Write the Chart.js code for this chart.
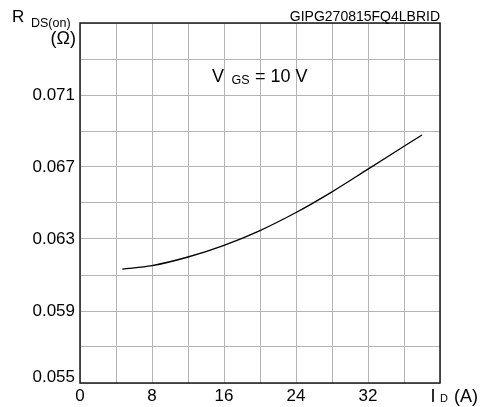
<!DOCTYPE html>
<html>
<head>
<meta charset="utf-8">
<script src="https://cdn.jsdelivr.net/npm/chart.js@4.4.1/dist/chart.umd.min.js"></script>
<style>
  html, body { margin: 0; padding: 0; background: #fff; }
  #wrap { width: 487px; height: 407px; }
</style>
</head>
<body>
<div id="wrap"><canvas id="rds-chart" width="487" height="407"></canvas></div>
<script>
// drain current (A) vs on-resistance (ohm), VGS = 10 V
const drainCurrent = [4.7, 8, 12, 16, 20, 24, 28, 32, 36, 38];
const rdsOn = [0.06133, 0.06152, 0.062, 0.06265, 0.06347, 0.06447, 0.06562, 0.06688, 0.06815, 0.06878];

const xTickLabels = ['0', '8', '16', '24', '32'];
const yTickLabels = ['0.055', '0.059', '0.063', '0.067', '0.071'];

const FONT = 'Liberation Sans, Arial, sans-serif';

// frame + axis titles + annotation drawn on top
const labelsPlugin = {
  id: 'labelsPlugin',
  afterDraw: (chart) => {
    const { ctx, chartArea: { left, top, right, bottom } } = chart;
    ctx.save();
    ctx.strokeStyle = '#1a1a1a';
    ctx.lineWidth = 1.5;
    ctx.strokeRect(left, top, right - left, bottom - top);

    ctx.fillStyle = '#000';
    ctx.textBaseline = 'alphabetic';
    ctx.textAlign = 'left';

    // y title
    ctx.font = `17px ${FONT}`;
    ctx.fillText('R', 12, 22);
    ctx.font = `12.5px ${FONT}`;
    ctx.fillText('DS(on)', 31, 27);
    ctx.textAlign = 'right';
    ctx.font = `18px ${FONT}`;
    ctx.fillText('(\u03A9)', 76, 44);

    // x title
    ctx.textAlign = 'left';
    ctx.font = `18px ${FONT}`;
    ctx.fillText('I', 430.5, 401.5);
    ctx.font = `11px ${FONT}`;
    ctx.fillText('D', 440, 401.5);
    ctx.font = `18px ${FONT}`;
    ctx.fillText('(A)', 454, 401.5);

    // condition label
    ctx.font = `18px ${FONT}`;
    ctx.fillText('V', 212, 81.5);
    ctx.font = `12.5px ${FONT}`;
    ctx.fillText('GS', 231.5, 83.5);
    ctx.font = `18px ${FONT}`;
    ctx.fillText('= 10 V', 255, 81.5);

    // figure id
    ctx.textAlign = 'right';
    ctx.font = `14px ${FONT}`;
    ctx.fillText('GIPG270815FQ4LBRID', right, 20.5);
    ctx.restore();
  }
};

const ctx = document.getElementById('rds-chart').getContext('2d');

new Chart(ctx, {
  type: 'line',
  data: {
    datasets: [{
      data: drainCurrent.map((x, i) => ({ x: x, y: rdsOn[i] })),
      borderColor: '#000',
      borderWidth: 1.3,
      pointRadius: 0,
      fill: false,
      cubicInterpolationMode: 'monotone'
    }]
  },
  options: {
    responsive: false,
    animation: false,
    events: [],
    layout: {
      padding: { left: 0, top: 23, right: 47, bottom: 0 }
    },
    plugins: {
      legend: { display: false },
      tooltip: { enabled: false },
      title: { display: false }
    },
    scales: {
      x: {
        type: 'linear',
        min: 0,
        max: 40,
        afterFit: (scale) => { scale.height = 24; },
        grid: { color: '#b4b4b4', lineWidth: 1, drawTicks: false },
        border: { display: false },
        ticks: {
          stepSize: 4,
          autoSkip: false,
          maxRotation: 0,
          padding: 3,
          color: '#000',
          font: { family: FONT, size: 17 },
          callback: (value, index) => (index % 2 === 0 ? (xTickLabels[index / 2] ?? '') : '')
        }
      },
      y: {
        type: 'linear',
        min: 0.055,
        max: 0.075,
        afterFit: (scale) => { scale.width = 80; },
        grid: { color: '#b4b4b4', lineWidth: 1, drawTicks: false },
        border: { display: false },
        ticks: {
          stepSize: 0.002,
          autoSkip: false,
          padding: 5,
          color: '#000',
          font: { family: FONT, size: 17, lineHeight: '11px' },
          callback: (value, index) => {
            if (index % 2 !== 0) return '';
            const label = yTickLabels[index / 2];
            if (!label) return '';
            // bottom label sits above the axis line
            return index === 0 ? [label, ''] : label;
          }
        }
      }
    }
  },
  plugins: [labelsPlugin]
});
</script>
</body>
</html>
